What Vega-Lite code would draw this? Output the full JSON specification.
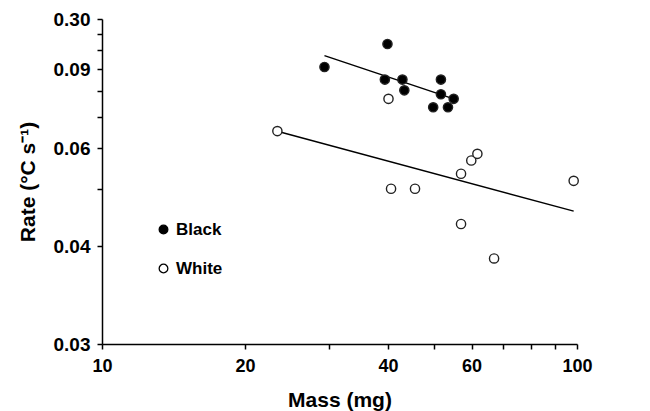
{
  "$schema": "https://vega.github.io/schema/vega-lite/v6.json",
  "width": 475,
  "height": 325,
  "autosize": "none",
  "padding": {"left": 102, "top": 19, "right": 73, "bottom": 67},
  "config": {"view": {"stroke": null}, "font": "Liberation Sans"},
  "datasets": {
    "points": [
      {"group": "Black", "mass": 29.4, "rate": 0.2136},
      {"group": "Black", "mass": 39.9, "rate": 0.2513},
      {"group": "Black", "mass": 39.4, "rate": 0.1953},
      {"group": "Black", "mass": 42.9, "rate": 0.1953},
      {"group": "Black", "mass": 43.3, "rate": 0.181},
      {"group": "Black", "mass": 51.7, "rate": 0.1953},
      {"group": "Black", "mass": 51.7, "rate": 0.176},
      {"group": "Black", "mass": 55.0, "rate": 0.1704},
      {"group": "Black", "mass": 49.8, "rate": 0.1605},
      {"group": "Black", "mass": 53.5, "rate": 0.1605},
      {"group": "White", "mass": 40.1, "rate": 0.1704},
      {"group": "White", "mass": 23.4, "rate": 0.1356},
      {"group": "White", "mass": 40.6, "rate": 0.0901},
      {"group": "White", "mass": 45.6, "rate": 0.0901},
      {"group": "White", "mass": 57.0, "rate": 0.1002},
      {"group": "White", "mass": 59.9, "rate": 0.1101},
      {"group": "White", "mass": 61.7, "rate": 0.1154},
      {"group": "White", "mass": 98.4, "rate": 0.0953},
      {"group": "White", "mass": 57.0, "rate": 0.0702},
      {"group": "White", "mass": 66.9, "rate": 0.055}
    ],
    "lines": [
      {"group": "Black", "mass": 29.4, "rate": 0.2314},
      {"group": "Black", "mass": 55.0, "rate": 0.1704},
      {"group": "White", "mass": 23.4, "rate": 0.1354},
      {"group": "White", "mass": 98.4, "rate": 0.0769}
    ]
  },
  "layer": [
    {
      "data": {"name": "lines"},
      "mark": {"type": "line", "color": "black", "strokeWidth": 1.5},
      "encoding": {
        "x": {"field": "mass", "type": "quantitative", "scale": {"type": "log", "domain": [10, 100], "nice": false}},
        "y": {"field": "rate", "type": "quantitative", "scale": {"type": "log", "domain": [0.03, 0.3], "nice": false}},
        "detail": {"field": "group"}
      }
    },
    {
      "data": {"name": "points"},
      "mark": {"type": "point", "shape": "circle", "size": 85, "stroke": "#222", "strokeWidth": 1.4, "opacity": 1, "filled": false},
      "encoding": {
        "x": {
          "field": "mass", "type": "quantitative",
          "scale": {"type": "log", "domain": [10, 100], "nice": false},
          "axis": {
            "title": "Mass (mg)",
            "values": [10, 20, 30, 40, 50, 60, 70, 80, 90, 100],
            "labelExpr": "datum.value == 10 || datum.value == 20 || datum.value == 40 || datum.value == 60 || datum.value == 100 ? datum.value + '' : ''",
            "grid": false,
            "labelFlush": false,
            "labelOverlap": false,
            "domainColor": "black", "domainWidth": 1.5,
            "tickColor": "black", "tickWidth": 1.5, "tickSize": 5,
            "labelFont": "Liberation Sans", "labelFontWeight": "bold", "labelFontSize": 18, "labelColor": "black", "labelPadding": 8,
            "titleFont": "Liberation Sans", "titleFontWeight": "bold", "titleFontSize": 21, "titleColor": "black", "titlePadding": 14
          }
        },
        "y": {
          "field": "rate", "type": "quantitative",
          "scale": {"type": "log", "domain": [0.03, 0.3], "nice": false},
          "axis": {
            "title": "Rate (°C s⁻¹)",
            "values": [0.03, 0.06, 0.09, 0.12, 0.15, 0.18, 0.21, 0.24, 0.27, 0.3],
            "labelExpr": "datum.value == 0.03 ? '0.03' : datum.value == 0.06 ? '0.04' : datum.value == 0.12 ? '0.06' : datum.value == 0.21 ? '0.09' : datum.value == 0.3 ? '0.30' : ''",
            "grid": false,
            "labelFlush": false,
            "labelOverlap": false,
            "domainColor": "black", "domainWidth": 1.5,
            "tickColor": "black", "tickWidth": 1.5, "tickSize": 5,
            "labelFont": "Liberation Sans", "labelFontWeight": "bold", "labelFontSize": 19, "labelColor": "black", "labelPadding": 7,
            "titleFont": "Liberation Sans", "titleFontWeight": "bold", "titleFontSize": 21, "titleColor": "black", "titlePadding": 15
          }
        },
        "fill": {
          "field": "group", "type": "nominal",
          "scale": {"domain": ["Black", "White"], "range": ["black", "white"]},
          "legend": {
            "title": null,
            "orient": "none",
            "legendX": 53,
            "legendY": 202,
            "symbolType": "circle",
            "symbolSize": 75,
            "symbolStrokeColor": "black",
            "symbolStrokeWidth": 1.3,
            "labelFont": "Liberation Sans",
            "labelFontWeight": "bold",
            "labelFontSize": 17,
            "labelColor": "black",
            "labelOffset": 4,
            "rowPadding": 21
          }
        }
      }
    }
  ]
}
